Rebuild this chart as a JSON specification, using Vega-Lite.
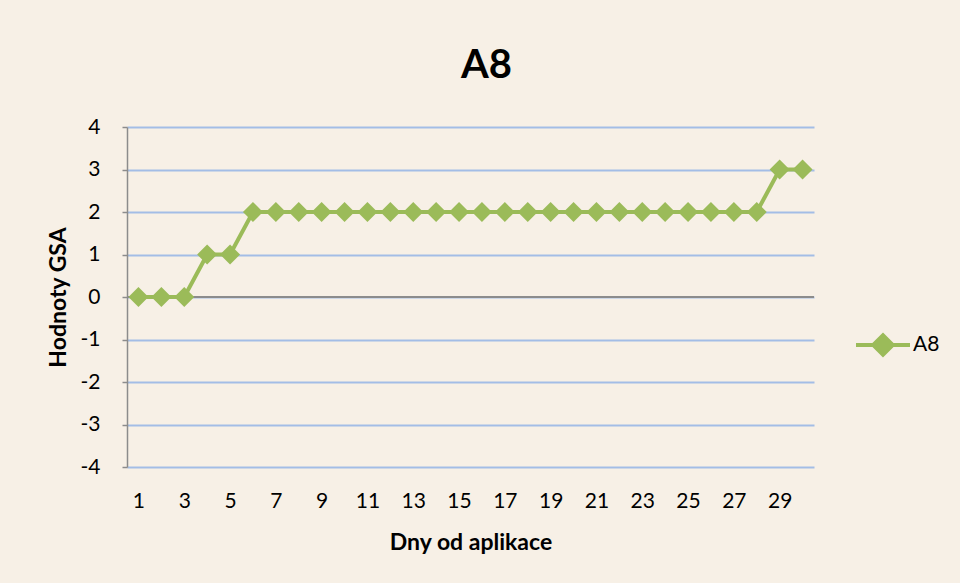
{
  "$schema": "https://vega.github.io/schema/vega-lite/v6.json",
  "width": 687,
  "height": 340,
  "autosize": {"type": "none"},
  "padding": {"left": 127, "top": 127, "right": 146, "bottom": 116},
  "background": "#F7F0E6",
  "title": {"text": "A8", "fontSize": 40, "font": "Lato", "fontWeight": "bold", "color": "#000000", "anchor": "middle", "dx": 16, "offset": 30},
  "data": {"values": [
    {"day": 1, "v": 0, "s": "A8"}, {"day": 2, "v": 0, "s": "A8"}, {"day": 3, "v": 0, "s": "A8"},
    {"day": 4, "v": 1, "s": "A8"}, {"day": 5, "v": 1, "s": "A8"}, {"day": 6, "v": 2, "s": "A8"},
    {"day": 7, "v": 2, "s": "A8"}, {"day": 8, "v": 2, "s": "A8"}, {"day": 9, "v": 2, "s": "A8"},
    {"day": 10, "v": 2, "s": "A8"}, {"day": 11, "v": 2, "s": "A8"}, {"day": 12, "v": 2, "s": "A8"},
    {"day": 13, "v": 2, "s": "A8"}, {"day": 14, "v": 2, "s": "A8"}, {"day": 15, "v": 2, "s": "A8"},
    {"day": 16, "v": 2, "s": "A8"}, {"day": 17, "v": 2, "s": "A8"}, {"day": 18, "v": 2, "s": "A8"},
    {"day": 19, "v": 2, "s": "A8"}, {"day": 20, "v": 2, "s": "A8"}, {"day": 21, "v": 2, "s": "A8"},
    {"day": 22, "v": 2, "s": "A8"}, {"day": 23, "v": 2, "s": "A8"}, {"day": 24, "v": 2, "s": "A8"},
    {"day": 25, "v": 2, "s": "A8"}, {"day": 26, "v": 2, "s": "A8"}, {"day": 27, "v": 2, "s": "A8"},
    {"day": 28, "v": 2, "s": "A8"}, {"day": 29, "v": 3, "s": "A8"}, {"day": 30, "v": 3, "s": "A8"}
  ]},
  "encoding": {
    "x": {"field": "day", "type": "ordinal", "scale": {"type": "point", "padding": 0.5},
      "axis": {"values": [1,3,5,7,9,11,13,15,17,19,21,23,25,27,29], "title": "Dny od aplikace", "domain": false, "ticks": false, "grid": false, "labelAngle": 0, "labelPadding": 23, "labelFontSize": 21, "titleFontSize": 23, "titlePadding": 20}},
    "y": {"field": "v", "type": "quantitative", "scale": {"domain": [-4, 4], "nice": false},
      "axis": {"values": [-4,-3,-2,-1,0,1,2,3,4], "labelExpr": "toString(datum.value)", "title": "Hodnoty GSA", "grid": true, "gridColor": "#A3BDE6", "gridWidth": 2, "domainColor": "#8C8C8C", "domainWidth": 1.5, "tickColor": "#8C8C8C", "tickSize": 5, "tickWidth": 1.5, "labelPadding": 22, "labelFontSize": 21, "titleFontSize": 23, "titlePadding": 10}}
  },
  "layer": [
    {"mark": {"type": "rule", "color": "#8C8C8C", "strokeWidth": 1.5}, "encoding": {"x": null, "y": {"datum": 0, "type": "quantitative"}}},
    {"mark": {"type": "line", "strokeWidth": 4},
      "encoding": {"color": {"field": "s", "type": "nominal", "scale": {"range": ["#9BBB59"]},
        "legend": {"orient": "none", "legendX": 743, "legendY": 205, "title": null,
          "symbolType": "M-2.5,0L2.5,0M-0.9,0L0,-0.9L0.9,0L0,0.9Z", "symbolSize": 467, "symbolStrokeWidth": 4, "labelOffset": 17, "labelFontSize": 21, "labelFont": "Lato", "labelColor": "#000000",
          "encode": {"symbols": {"update": {"fill": {"value": "#9BBB59"}, "stroke": {"value": "#9BBB59"}, "strokeWidth": {"value": 4}, "opacity": {"value": 1}}}}}}}},
    {"mark": {"type": "point", "shape": "diamond", "filled": true, "size": 400, "opacity": 1},
      "encoding": {"color": {"field": "s", "type": "nominal"}}}
  ],
  "config": {
    "font": "Lato",
    "view": {"stroke": null},
    "axis": {"labelFont": "Lato", "titleFont": "Lato", "labelColor": "#000000", "titleColor": "#000000", "titleFontWeight": "bold"}
  }
}
